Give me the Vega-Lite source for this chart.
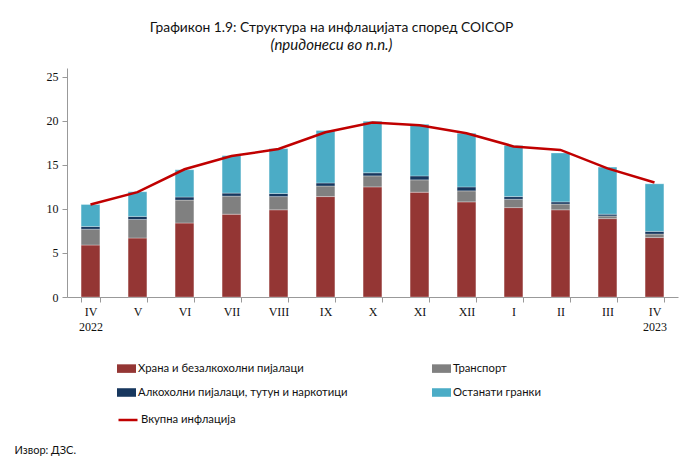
{
  "$schema": "https://vega.github.io/schema/vega-lite/v6.json",
  "autosize": {"type": "none"},
  "width": 611,
  "height": 229,
  "padding": {"left": 67, "top": 68, "right": 5, "bottom": 173},
  "background": "white",
  "config": {"view": {"stroke": null}},
  "title": {
    "text": "Графикон 1.9: Структура на инфлацијата според COICOP",
    "subtitle": "(придонеси во п.п.)",
    "font": "Lato",
    "fontSize": 13.8,
    "fontWeight": "normal",
    "color": "#111111",
    "subtitleFont": "Lato",
    "subtitleFontSize": 15,
    "subtitleFontStyle": "italic",
    "subtitleColor": "#111111",
    "subtitlePadding": 3,
    "anchor": "middle",
    "dx": -41,
    "offset": 15
  },
  "datasets": {
    "bars": [
      {"month": "IV 2022", "cat": "Храна и безалкохолни пијалаци", "v": 5.9},
      {"month": "IV 2022", "cat": "Транспорт", "v": 1.8},
      {"month": "IV 2022", "cat": "Алкохолни пијалаци, тутун и наркотици", "v": 0.3},
      {"month": "IV 2022", "cat": "Останати гранки", "v": 2.5},
      {"month": "V", "cat": "Храна и безалкохолни пијалаци", "v": 6.7},
      {"month": "V", "cat": "Транспорт", "v": 2.1},
      {"month": "V", "cat": "Алкохолни пијалаци, тутун и наркотици", "v": 0.35},
      {"month": "V", "cat": "Останати гранки", "v": 2.8},
      {"month": "VI", "cat": "Храна и безалкохолни пијалаци", "v": 8.4},
      {"month": "VI", "cat": "Транспорт", "v": 2.6},
      {"month": "VI", "cat": "Алкохолни пијалаци, тутун и наркотици", "v": 0.35},
      {"month": "VI", "cat": "Останати гранки", "v": 3.1},
      {"month": "VII", "cat": "Храна и безалкохолни пијалаци", "v": 9.4},
      {"month": "VII", "cat": "Транспорт", "v": 2.05},
      {"month": "VII", "cat": "Алкохолни пијалаци, тутун и наркотици", "v": 0.35},
      {"month": "VII", "cat": "Останати гранки", "v": 4.25},
      {"month": "VIII", "cat": "Храна и безалкохолни пијалаци", "v": 9.9},
      {"month": "VIII", "cat": "Транспорт", "v": 1.5},
      {"month": "VIII", "cat": "Алкохолни пијалаци, тутун и наркотици", "v": 0.35},
      {"month": "VIII", "cat": "Останати гранки", "v": 5.1},
      {"month": "IX", "cat": "Храна и безалкохолни пијалаци", "v": 11.4},
      {"month": "IX", "cat": "Транспорт", "v": 1.2},
      {"month": "IX", "cat": "Алкохолни пијалаци, тутун и наркотици", "v": 0.35},
      {"month": "IX", "cat": "Останати гранки", "v": 5.95},
      {"month": "X", "cat": "Храна и безалкохолни пијалаци", "v": 12.5},
      {"month": "X", "cat": "Транспорт", "v": 1.25},
      {"month": "X", "cat": "Алкохолни пијалаци, тутун и наркотици", "v": 0.35},
      {"month": "X", "cat": "Останати гранки", "v": 5.85},
      {"month": "XI", "cat": "Храна и безалкохолни пијалаци", "v": 11.9},
      {"month": "XI", "cat": "Транспорт", "v": 1.4},
      {"month": "XI", "cat": "Алкохолни пијалаци, тутун и наркотици", "v": 0.45},
      {"month": "XI", "cat": "Останати гранки", "v": 5.85},
      {"month": "XII", "cat": "Храна и безалкохолни пијалаци", "v": 10.8},
      {"month": "XII", "cat": "Транспорт", "v": 1.25},
      {"month": "XII", "cat": "Алкохолни пијалаци, тутун и наркотици", "v": 0.45},
      {"month": "XII", "cat": "Останати гранки", "v": 6.1},
      {"month": "I", "cat": "Храна и безалкохолни пијалаци", "v": 10.15},
      {"month": "I", "cat": "Транспорт", "v": 0.95},
      {"month": "I", "cat": "Алкохолни пијалаци, тутун и наркотици", "v": 0.3},
      {"month": "I", "cat": "Останати гранки", "v": 5.8},
      {"month": "II", "cat": "Храна и безалкохолни пијалаци", "v": 9.9},
      {"month": "II", "cat": "Транспорт", "v": 0.65},
      {"month": "II", "cat": "Алкохолни пијалаци, тутун и наркотици", "v": 0.25},
      {"month": "II", "cat": "Останати гранки", "v": 5.55},
      {"month": "III", "cat": "Храна и безалкохолни пијалаци", "v": 8.9},
      {"month": "III", "cat": "Транспорт", "v": 0.3},
      {"month": "III", "cat": "Алкохолни пијалаци, тутун и наркотици", "v": 0.2},
      {"month": "III", "cat": "Останати гранки", "v": 5.35},
      {"month": "IV 2023", "cat": "Храна и безалкохолни пијалаци", "v": 6.75},
      {"month": "IV 2023", "cat": "Транспорт", "v": 0.4},
      {"month": "IV 2023", "cat": "Алкохолни пијалаци, тутун и наркотици", "v": 0.3},
      {"month": "IV 2023", "cat": "Останати гранки", "v": 5.4}
    ],
    "total": [
      {"month": "IV 2022", "series": "Вкупна инфлација", "v": 10.5},
      {"month": "V", "series": "Вкупна инфлација", "v": 11.9},
      {"month": "VI", "series": "Вкупна инфлација", "v": 14.5},
      {"month": "VII", "series": "Вкупна инфлација", "v": 16.0},
      {"month": "VIII", "series": "Вкупна инфлација", "v": 16.8},
      {"month": "IX", "series": "Вкупна инфлација", "v": 18.7},
      {"month": "X", "series": "Вкупна инфлација", "v": 19.8},
      {"month": "XI", "series": "Вкупна инфлација", "v": 19.5},
      {"month": "XII", "series": "Вкупна инфлација", "v": 18.6},
      {"month": "I", "series": "Вкупна инфлација", "v": 17.1},
      {"month": "II", "series": "Вкупна инфлација", "v": 16.7},
      {"month": "III", "series": "Вкупна инфлација", "v": 14.6},
      {"month": "IV 2023", "series": "Вкупна инфлација", "v": 13.0}
    ]
  },
  "encoding": {
    "x": {
      "field": "month",
      "type": "nominal",
      "sort": ["IV 2022", "V", "VI", "VII", "VIII", "IX", "X", "XI", "XII", "I", "II", "III", "IV 2023"],
      "scale": {"paddingInner": 0.6, "paddingOuter": 0.3},
      "axis": {
        "title": "Извор: ДЗС.",
        "titleFont": "Lato",
        "titleFontSize": 11,
        "titleFontWeight": "normal",
        "titleColor": "#111111",
        "titleAlign": "left",
        "titleBaseline": "middle",
        "titleAnchor": null,
        "titleX": -53,
        "titleY": 153,
        "labelAngle": 0,
        "labelExpr": "datum.value ? split(datum.value, ' ') : ''",
        "labelFont": "Liberation Serif",
        "labelFontSize": 12,
        "labelColor": "#111111",
        "labelPadding": 4,
        "labelLineHeight": 15,
        "tickBand": "extent",
        "tickColor": "#999999",
        "tickSize": 5,
        "domainColor": "#999999",
        "grid": false
      }
    }
  },
  "layer": [
    {
      "data": {"name": "bars"},
      "transform": [
        {"calculate": "indexof(['Храна и безалкохолни пијалаци', 'Транспорт', 'Алкохолни пијалаци, тутун и наркотици', 'Останати гранки'], datum.cat)", "as": "stackOrder"}
      ],
      "mark": {"type": "bar", "stroke": "#ffffff", "strokeOpacity": 0.5, "strokeWidth": 0.6},
      "encoding": {
        "y": {
          "field": "v",
          "type": "quantitative",
          "stack": "zero",
          "scale": {"domain": [0, 25]},
          "axis": {
            "title": null,
            "values": [0, 5, 10, 15, 20, 25],
            "labelFont": "Liberation Serif",
            "labelFontSize": 12,
            "labelColor": "#111111",
            "labelPadding": 4,
            "tickColor": "#999999",
            "tickSize": 5,
            "domainColor": "#999999",
            "grid": false
          }
        },
        "color": {
          "field": "cat",
          "type": "nominal",
          "sort": ["Храна и безалкохолни пијалаци", "Транспорт", "Алкохолни пијалаци, тутун и наркотици", "Останати гранки"],
          "scale": {
            "domain": ["Храна и безалкохолни пијалаци", "Транспорт", "Алкохолни пијалаци, тутун и наркотици", "Останати гранки"],
            "range": ["#943634", "#808080", "#17375e", "#4bacc6"]
          },
          "legend": {
            "title": null,
            "orient": "none",
            "direction": "horizontal",
            "legendX": 50,
            "legendY": 291,
            "columns": 2,
            "columnPadding": 84,
            "rowPadding": 9,
            "symbolType": "M-1,-0.45H1V0.45H-1Z",
            "symbolSize": 361,
            "symbolStrokeWidth": 0,
            "labelFont": "Lato",
            "labelFontSize": 11.3,
            "labelColor": "#111111",
            "labelOffset": 2,
            "labelLimit": 400
          }
        },
        "order": {"field": "stackOrder", "type": "quantitative", "sort": "ascending"}
      }
    },
    {
      "data": {"name": "total"},
      "mark": {"type": "line", "strokeWidth": 2.5},
      "encoding": {
        "y": {"field": "v", "type": "quantitative"},
        "stroke": {
          "field": "series",
          "type": "nominal",
          "scale": {"range": ["#c00000"]},
          "legend": {
            "title": null,
            "orient": "none",
            "legendX": 50,
            "legendY": 341,
            "symbolType": "stroke",
            "symbolSize": 361,
            "symbolStrokeWidth": 2.5,
            "labelFont": "Lato",
            "labelFontSize": 11.3,
            "labelColor": "#111111",
            "labelOffset": 2
          }
        }
      }
    }
  ]
}
